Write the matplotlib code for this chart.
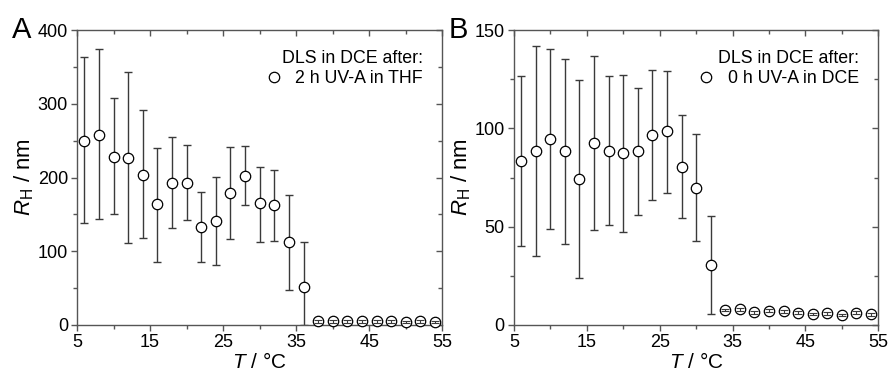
import numpy as np
import matplotlib.pyplot as plt
from matplotlib.lines import Line2D

plt.rcParams['font.family'] = ['Liberation Sans', 'DejaVu Sans']
plt.rcParams['mathtext.fontset'] = 'custom'
plt.rcParams['mathtext.rm'] = 'Liberation Sans'
plt.rcParams['mathtext.it'] = 'Liberation Sans:italic'

# -------------------------
# data
# -------------------------
temp = np.arange(6, 56, 2)

# panel A: 2 h UV-A in THF
rh_a = [250, 258, 228, 226, 204, 164, 193, 193, 133, 141, 179, 202, 165, 163, 112, 51,
        5, 5, 5, 5, 5, 5, 4, 5, 4]
top_a = [363, 374, 308, 343, 292, 240, 255, 244, 180, 201, 242, 243, 215, 210, 176, 112,
         7, 7, 7, 7, 7, 7, 6, 7, 6]
bot_a = [138, 144, 150, 111, 118, 86, 132, 143, 86, 81, 116, 163, 113, 114, 48, 0,
         3, 3, 3, 3, 3, 3, 2, 3, 2]

# panel B: 0 h UV-A in DCE
rh_b = [83.5, 88.5, 94.5, 88.5, 74.5, 92.7, 88.6, 87.3, 88.3, 96.5, 98.5, 80.5, 69.7, 30.4,
        7.6, 7.9, 6.4, 7.3, 6.9, 6.3, 5.7, 5.9, 5.1, 6.3, 5.4]
top_b = [126.5, 141.7, 140.2, 135.3, 124.8, 136.8, 126.5, 127.3, 120.7, 129.7, 129.0, 106.9,
         97.3, 55.3, 8.2, 8.5, 7.0, 7.9, 7.5, 6.9, 6.3, 6.5, 5.7, 6.9, 6.0]
bot_b = [40.3, 35.2, 49.0, 41.4, 24.0, 48.5, 50.9, 47.3, 55.8, 63.8, 67.3, 54.4, 42.5, 5.4,
         7.0, 7.3, 5.8, 6.7, 6.3, 5.7, 5.1, 5.3, 4.5, 5.7, 4.8]

panels = [
    dict(letter='A', y=rh_a, top=top_a, bot=bot_a, ymax=400, major=100, minor=50,
         label='2 h UV-A in THF', rect=[0.0866, 0.138, 0.411, 0.782]),
    dict(letter='B', y=rh_b, top=top_b, bot=bot_b, ymax=150, major=50, minor=25,
         label='0 h UV-A in DCE', rect=[0.578, 0.138, 0.410, 0.782]),
]

spine_col = '#555555'
bar_col = '#3a3a3a'

fig = plt.figure(figsize=(8.89, 3.77), dpi=100)

for p in panels:
    ax = fig.add_axes(p['rect'])
    y = np.array(p['y'])
    err = np.array([y - np.array(p['bot']), np.array(p['top']) - y])

    ax.errorbar(temp, y, yerr=err, fmt='none', ecolor=bar_col, elinewidth=1.0,
                capsize=3.2, capthick=1.0, zorder=2)
    ax.plot(temp, y, 'o', ms=7.5, mfc='white', mec='black', mew=0.9, zorder=3,
            clip_on=False)
    # tiny error bars show through the small circles
    small = y < 10
    ax.errorbar(temp[small], y[small], yerr=err[:, small], fmt='none', ecolor=bar_col,
                elinewidth=0.8, capsize=3.0, capthick=0.8, zorder=4)

    ax.set_xlim(5, 55)
    ax.set_ylim(0, p['ymax'])
    ax.set_xticks(np.arange(5, 56, 10))
    ax.set_xticks(np.arange(10, 55, 10), minor=True)
    ax.set_yticks(np.arange(0, p['ymax'] + 1, p['major']))
    ax.set_yticks(np.arange(p['minor'], p['ymax'], p['major']), minor=True)

    for s in ax.spines.values():
        s.set_color(spine_col)
        s.set_linewidth(1.0)
    ax.tick_params(which='both', direction='out', color=spine_col, labelsize=13,
                   width=1.0, pad=2)
    ax.tick_params(which='major', length=4.5)
    ax.tick_params(which='minor', length=3)

    # mirrored ticks pointing inwards on top and right
    sx = ax.secondary_xaxis('top')
    sy = ax.secondary_yaxis('right')
    for sec in (sx, sy):
        sec.tick_params(which='both', direction='in', color=spine_col,
                        labeltop=False, labelright=False, width=1.0)
        sec.tick_params(which='major', length=4.5)
        sec.tick_params(which='minor', length=3)
        sec.spines[:].set_visible(False)
    sx.set_xticks(np.arange(5, 56, 10))
    sx.set_xticks(np.arange(10, 55, 10), minor=True)
    sx.set_xticklabels([])
    sy.set_yticks(np.arange(0, p['ymax'] + 1, p['major']))
    sy.set_yticks(np.arange(p['minor'], p['ymax'], p['major']), minor=True)
    sy.set_yticklabels([])

    ax.set_xlabel(r'$T$ / °C', fontsize=15, labelpad=1)
    ax.set_ylabel(r'$R_{\mathrm{H}}$ / nm', fontsize=16, labelpad=1)

    handle = Line2D([], [], ls='none', marker='o', ms=7.5, mfc='white', mec='black',
                    mew=0.9)
    ax.legend([handle], [p['label']], title='DLS in DCE after:', loc='upper right',
              frameon=False, fontsize=12.8, title_fontsize=12.8, alignment='right',
              handletextpad=0.6, handlelength=1.2, borderaxespad=0.7,
              borderpad=0.4, labelspacing=0.2)

    ax.text(-0.178, 1.0, p['letter'], transform=ax.transAxes, fontsize=21,
            ha='left', va='center')

plt.savefig('out.png', dpi=100)
